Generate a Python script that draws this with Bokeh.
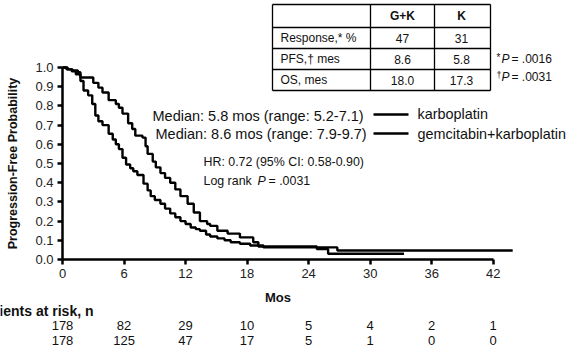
from bokeh.plotting import figure
from bokeh.models import LinearAxis, FixedTicker, Range1d, PrintfTickFormatter
from bokeh.core.properties import value
from bokeh.embed import file_html
from bokeh.resources import INLINE

# ---------------- data ----------------
# Kaplan-Meier steps, karboplatin (K)
k_time = [0, 0.5, 1.0, 1.5, 1.75, 2.05, 2.5, 2.9, 3.2, 3.5, 3.9, 4.5, 4.9, 5.2, 5.5,
          5.85, 6.2, 6.6, 6.9, 7.3, 7.9, 8.3, 8.6, 9.0, 9.55, 10.0, 10.5, 11.0, 11.5,
          12.0, 12.5, 13.0, 13.4, 14.0, 14.4, 15.1, 15.8, 16.4, 17.3, 18.3, 19.6, 26.8, 43.9]
k_surv = [1.0, 0.99, 0.985, 0.975, 0.93, 0.88, 0.855, 0.81, 0.75, 0.72, 0.70, 0.655, 0.625, 0.60, 0.575,
          0.53, 0.495, 0.475, 0.46, 0.44, 0.395, 0.36, 0.33, 0.31, 0.29, 0.265, 0.24, 0.22, 0.20,
          0.185, 0.167, 0.158, 0.15, 0.13, 0.12, 0.11, 0.10, 0.09, 0.082, 0.073, 0.063, 0.047, 0.047]
# Kaplan-Meier steps, gemcitabin+karboplatin (G+K)
gk_time = [0, 0.4, 0.9, 1.3, 1.75, 3.0, 3.5, 3.9, 4.5, 5.2, 5.5, 5.85, 6.4, 6.8, 7.1, 7.8, 8.1, 8.3,
           8.8, 9.1, 9.55, 10.0, 10.5, 11.0, 11.5, 12.2, 12.8, 13.4, 14.1, 14.4, 15.1, 16.1, 17.3,
           18.6, 19.1, 24.8, 25.9, 33.3]
gk_surv = [1.0, 0.99, 0.98, 0.965, 0.948, 0.92, 0.895, 0.87, 0.83, 0.81, 0.79, 0.76, 0.71, 0.68, 0.645,
           0.635, 0.59, 0.55, 0.51, 0.48, 0.45, 0.425, 0.40, 0.365, 0.33, 0.29, 0.245, 0.20, 0.185,
           0.175, 0.15, 0.135, 0.115, 0.09, 0.068, 0.055, 0.03, 0.03]

x_ticks = [0, 6, 12, 18, 24, 30, 36, 42]
y_ticks = [0.0, 0.1, 0.2, 0.3, 0.4, 0.5, 0.6, 0.7, 0.8, 0.9, 1.0]
risk_k = ["178", "82", "29", "10", "5", "4", "2", "1"]
risk_gk = ["178", "125", "47", "17", "5", "1", "0", "0"]

table_header = ["", "G+K", "K"]
table_rows = ["Response,* %", "PFS,\u2020 mes", "OS, mes"]
table_gk = ["47", "8.6", "18.0"]
table_k = ["31", "5.8", "17.3"]

# ---------------- layout helpers (picture pixel -> data) ----------------
XS = 10.255   # px per month
YS = 192.0    # px per probability unit
def dx(px):
    return (px - 62) / XS
def dy(py):
    return (259 - py) / YS

FONT = value("Liberation Sans")

p = figure(width=567, height=353,
           x_range=Range1d(dx(0), dx(567)), y_range=Range1d(dy(353), dy(0)),
           output_backend="svg", toolbar_location=None,
           x_axis_type=None, y_axis_type=None, min_border=0)
p.outline_line_color = None
p.background_fill_color = "white"
p.border_fill_color = "white"

# axes
xaxis = LinearAxis(fixed_location=0, bounds=(0, 42), ticker=FixedTicker(ticks=x_ticks),
                   axis_label="Mos")
yaxis = LinearAxis(fixed_location=0, bounds=(0, 1), ticker=FixedTicker(ticks=y_ticks),
                   formatter=PrintfTickFormatter(format="%.1f"),
                   axis_label="Progression-Free Probability")
for ax in (xaxis, yaxis):
    ax.axis_line_width = 2.5
    ax.axis_line_color = "black"
    ax.major_tick_line_width = 2.5
    ax.major_tick_line_color = "black"
    ax.major_tick_out = 5
    ax.major_tick_in = 0
    ax.minor_tick_out = 0
    ax.minor_tick_in = 0
    ax.major_label_text_font = "Liberation Sans"
    ax.major_label_text_font_size = "13px"
    ax.major_label_text_color = "#222222"
    ax.axis_label_text_font = "Liberation Sans"
    ax.axis_label_text_font_style = "bold"
    ax.axis_label_text_color = "#111111"
xaxis.axis_label_text_font_size = "13px"
xaxis.major_label_standoff = 4
xaxis.axis_label_standoff = 9
yaxis.axis_label_text_font_size = "12.5px"
yaxis.major_label_standoff = 4
yaxis.axis_label_standoff = 12
p.add_layout(xaxis, "below")
p.add_layout(yaxis, "left")

# KM curves
p.step(x=k_time, y=k_surv, mode="after", line_width=2.4, line_color="black")
p.step(x=gk_time, y=gk_surv, mode="after", line_width=2.4, line_color="black")

def txt(x, y, s, size="13px", align="left", style="normal", color="#111111"):
    p.text(x=[x], y=[y], text=[s], text_font=FONT, text_font_size=size,
           text_align=align, text_baseline="middle", text_font_style=style, text_color=color)

# medians + legend
txt(dx(152), dy(115), "Median: 5.8 mos (range: 5.2-7.1)", size="14.5px")
txt(dx(155), dy(133), "Median: 8.6 mos (range: 7.9-9.7)", size="14.5px")
p.segment(x0=[dx(373), dx(373)], y0=[dy(114), dy(133)], x1=[dx(408), dx(408)], y1=[dy(114), dy(133)],
          line_color="black", line_width=2.5)
txt(dx(417), dy(113), "karboplatin", size="14.4px")
txt(dx(417), dy(133), "gemcitabin+karboplatin", size="14.4px")

# HR / log rank
txt(dx(203), dy(161), "HR: 0.72 (95% CI: 0.58-0.90)", size="12.4px")
txt(dx(203), dy(180), "Log rank ", size="12.4px")
txt(dx(257), dy(180), "P", size="12.4px", style="italic")
txt(dx(268), dy(180), "= .0031", size="12.4px")

# summary table
col_x = [272, 370, 434, 490]
row_y = [4, 27, 48, 69, 90]
p.segment(x0=[dx(col_x[0])] * len(row_y), x1=[dx(col_x[-1])] * len(row_y),
          y0=[dy(v) for v in row_y], y1=[dy(v) for v in row_y], line_color="black", line_width=1.3)
p.segment(x0=[dx(v) for v in col_x], x1=[dx(v) for v in col_x],
          y0=[dy(row_y[0])] * len(col_x), y1=[dy(row_y[-1])] * len(col_x), line_color="black", line_width=1.3)
txt(dx(402), dy(15), table_header[1], size="12px", align="center", style="bold")
txt(dx(461), dy(15), table_header[2], size="12px", align="center", style="bold")
for i, (lab, a, b) in enumerate(zip(table_rows, table_gk, table_k)):
    yy = dy((row_y[i + 1] + row_y[i + 2]) / 2)
    txt(dx(280), yy, lab, size="12px")
    txt(dx(402), yy, a, size="12px", align="center")
    txt(dx(461), yy, b, size="12px", align="center")

# p-values
txt(dx(496), dy(57), "*", size="10px")
txt(dx(501), dy(58), "P", size="12px", style="italic")
txt(dx(511), dy(58), "= .0016", size="12px")
txt(dx(496), dy(74), "\u2020", size="9px")
txt(dx(501), dy(76), "P", size="12px", style="italic")
txt(dx(511), dy(76), "= .0031", size="12px")

# at-risk table
txt(dx(93), dy(310), "Patients at risk, n", size="14px", align="right", style="bold")
p.text(x=x_ticks, y=[dy(325)] * len(x_ticks), text=risk_k, text_font=FONT, text_font_size="13px",
       text_align="center", text_baseline="middle", text_color="#111111")
p.text(x=x_ticks, y=[dy(340)] * len(x_ticks), text=risk_gk, text_font=FONT, text_font_size="13px",
       text_align="center", text_baseline="middle", text_color="#111111")

open("out.html", "w").write(file_html(p, INLINE))
